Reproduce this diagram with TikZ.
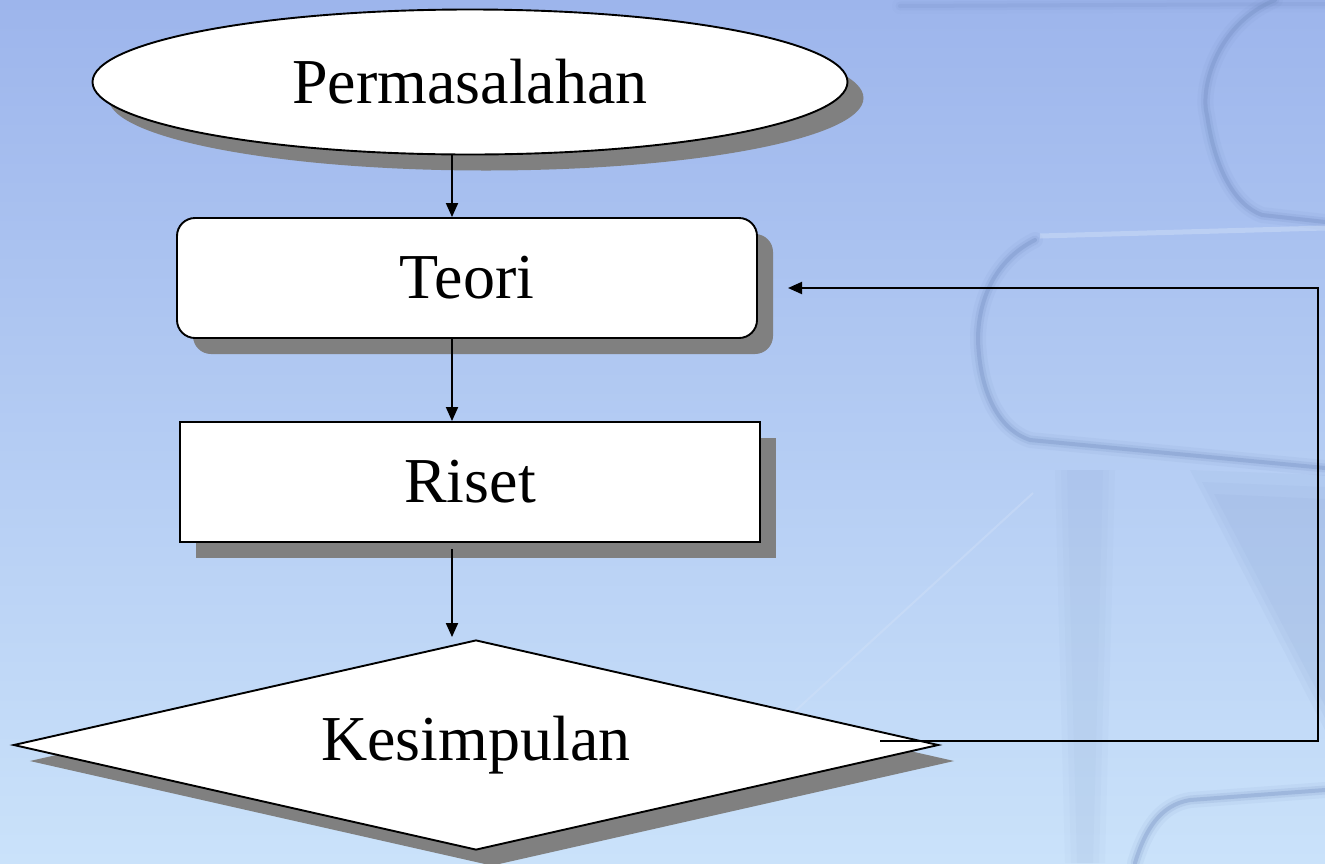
\documentclass[tikz,border=0pt]{standalone}
\usepackage{fontspec}
\setmainfont{Liberation Serif}
\usetikzlibrary{shapes.geometric,shadows,arrows.meta,calc}
\definecolor{bgtop}{RGB}{157,181,236}
\definecolor{bgbot}{RGB}{202,226,250}
\definecolor{shadowgray}{RGB}{128,128,128}
\definecolor{bookline}{RGB}{112,138,190}
\definecolor{booklight}{RGB}{215,228,248}

\begin{document}
\begin{tikzpicture}[x=1pt,y=-1pt,
  flowbox/.style={draw=black,line width=1.9pt,fill=white,inner sep=0pt,
    font=\fontsize{64}{70}\selectfont,
    drop shadow={shadow xshift=16pt,shadow yshift=-16pt,fill=shadowgray,opacity=1}},
  arr/.style={line width=1.9pt,-{Triangle[length=14pt,width=12pt]}},
  soft/.style={draw=bookline,line cap=round,line join=round}]

% background
\useasboundingbox (0,0) rectangle (1325,863);
\shade[top color=bgtop,bottom color=bgbot] (0,0) rectangle (1325,863);

% faint stacked books on the right
\foreach \d in {0,12,24}{
  \fill[bookline,opacity=0.06] (1190+\d,470+\d) -- (1325,475+\d) -- (1325,730-\d) -- cycle;
  \fill[bookline,opacity=0.04] (1055+\d/2,470) -- (1115-\d/2,470) -- (1105-\d/2,863) -- (1065+\d/2,863) -- cycle;
}
\foreach \w/\o in {16/0.08,9/0.15,4/0.30}{
  \draw[soft,line width=\w pt,opacity=\o]
    (1275,0) .. controls (1215,25) and (1200,90) .. (1207,115)
    .. controls (1215,170) and (1235,205) .. (1262,215) -- (1325,222);
  \draw[soft,line width=\w pt,opacity=\o]
    (1035,240) .. controls (995,260) and (978,300) .. (978,340)
    .. controls (980,395) and (1000,430) .. (1030,440) -- (1325,468);
  \draw[soft,line width=\w pt,opacity=\o]
    (1135,863) .. controls (1145,830) and (1160,805) .. (1190,800) -- (1325,790);
  \draw[soft,line width=\w pt,opacity=\o*0.5] (900,6) -- (1325,4);
}
\draw[booklight,line width=5pt,opacity=0.4] (1040,236) -- (1325,228);
\draw[booklight,line width=2pt,opacity=0.35] (793,713) -- (1033,493);

% flowchart nodes
\node[flowbox,ellipse,minimum width=755pt,minimum height=145pt] (perm) at (470,82) {Permasalahan};
\node[flowbox,rounded corners=18pt,minimum width=580pt,minimum height=120pt] (teori) at (467,278) {Teori};
\node[flowbox,minimum width=580pt,minimum height=120pt] (riset) at (470,482) {Riset};
\node[flowbox,diamond,shape aspect=4.4,minimum width=925pt,minimum height=210pt] (kes) at (476,745) {Kesimpulan};

% connectors
\coordinate (axis) at (452,0);
\coordinate (fbStart) at (880,741);
\coordinate (fbCorner) at (1318,741);
\coordinate (fbEnd) at (788,288);
\draw[arr] (perm.south -| axis) -- (teori.north -| axis);
\draw[arr] (teori.south -| axis) -- (riset.north -| axis);
\draw[arr] ($(riset.south -| axis)+(0,6)$) -- ($(kes.north -| axis)+(0,-2)$);
\draw[arr] (fbStart) -- (fbCorner) |- (fbEnd);
\end{tikzpicture}
\end{document}
